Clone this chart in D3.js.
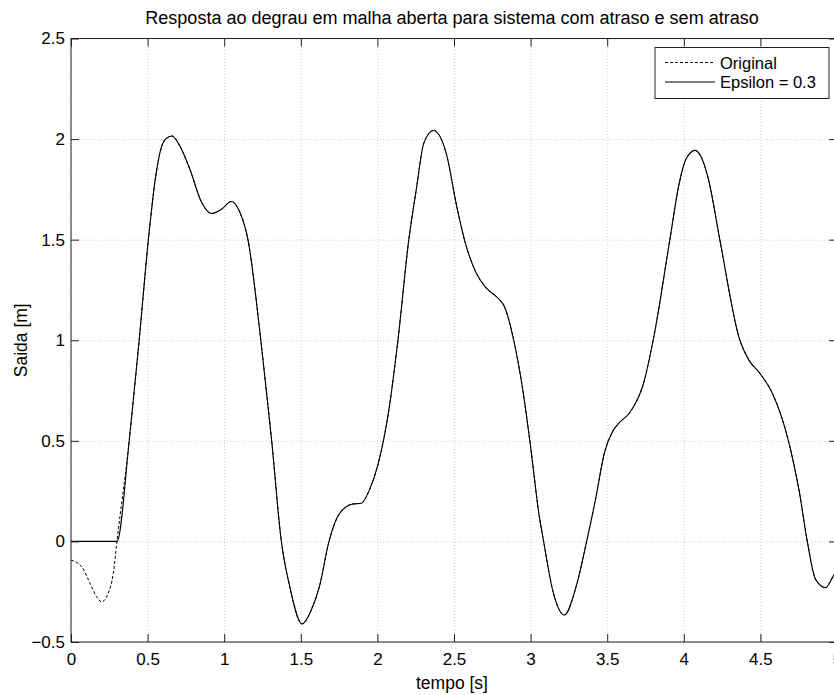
<!doctype html>
<html lang="pt">
  <head>
    <meta charset="utf-8">
    <title>Resposta ao degrau</title>
    <style>
      body{margin:0;background:#fff;}
      svg{display:block;font-family:"Liberation Sans", Arial, Helvetica, sans-serif;}
    </style>
  </head>
  <body>
    <div class="holder"></div>
    <script src="https://cdn.jsdelivr.net/npm/d3@7"></script>
    <script>

      // data: [tempo, saida]
      // beginning of the original response (only the dashed curve shows here)
      var originalHead = [
        [0.000, -0.093], [0.070, -0.126], [0.124, -0.208], [0.167, -0.275],
        [0.200, -0.300], [0.243, -0.258], [0.276, -0.159], [0.300, 0.000]
      ];

      // delayed system stays at zero until the delay ends
      var epsilonHead = [[0.000, 0.000], [0.300, 0.000]];

      // after t = 0.3 both curves lie on top of each other
      var sharedTail = [
        [0.30, 0.00], [0.38, 0.50], [0.445, 1.00], [0.505, 1.50], [0.55, 1.80],
        [0.59, 1.96], [0.625, 2.005], [0.66, 2.015], [0.70, 1.98], [0.776, 1.85],
        [0.85, 1.69], [0.917, 1.63], [0.98, 1.65], [1.047, 1.69], [1.10, 1.64],
        [1.155, 1.50], [1.239, 1.00], [1.31, 0.50], [1.373, 0.00], [1.428, -0.225],
        [1.508, -0.41], [1.569, -0.34], [1.623, -0.22], [1.684, 0.00], [1.754, 0.14],
        [1.84, 0.186], [1.895, 0.19], [1.95, 0.26], [2.003, 0.38], [2.075, 0.654],
        [2.134, 1.00], [2.205, 1.50], [2.254, 1.75], [2.303, 1.98], [2.366, 2.043],
        [2.449, 1.93], [2.518, 1.665], [2.568, 1.50], [2.645, 1.334], [2.71, 1.26],
        [2.786, 1.21], [2.829, 1.168], [2.89, 1.00], [2.949, 0.753], [3.00, 0.47],
        [3.057, 0.123], [3.085, 0.00], [3.144, -0.242], [3.22, -0.366], [3.297, -0.225],
        [3.366, 0.00], [3.427, 0.222], [3.481, 0.438], [3.535, 0.546], [3.579, 0.59],
        [3.644, 0.637], [3.70, 0.71], [3.731, 0.77], [3.80, 1.00], [3.909, 1.50],
        [3.97, 1.78], [4.014, 1.90], [4.074, 1.944], [4.12, 1.90], [4.161, 1.80],
        [4.235, 1.50], [4.366, 1.00], [4.426, 0.90], [4.496, 0.836], [4.578, 0.737],
        [4.683, 0.50], [4.752, 0.256], [4.806, 0.00], [4.861, -0.19], [4.926, -0.23],
        [4.97, -0.18], [5.00, -0.14]
      ];

      var xTicks = [0, 0.5, 1, 1.5, 2, 2.5, 3, 3.5, 4, 4.5, 5];
      var yTicks = [-0.5, 0, 0.5, 1, 1.5, 2, 2.5];
      var legendLabels = ["Original", "Epsilon = 0.3"];

      var original = originalHead.concat(sharedTail.slice(1));
      var epsilon  = epsilonHead.concat(sharedTail.slice(1));

      var width = 834, height = 695,
          plotLeft = 71, plotRight = 837, plotTop = 38.5, plotBottom = 642;

      var x = d3.scaleLinear().domain([0, 5]).range([plotLeft, plotRight]);
      var y = d3.scaleLinear().domain([-0.5, 2.5]).range([plotBottom, plotTop]);

      var svg = d3.select(".holder")
          .append("svg")
          .attr("width", width)
          .attr("height", height);

      //grid
      function styleGrid(g){
        g.select(".domain").remove();
        g.selectAll("line").attr("stroke", "#cfcfcf").attr("stroke-dasharray", "1,2");
      }

      svg.append("g")
          .attr("transform", "translate(0," + plotBottom + ")")
          .call(d3.axisBottom(x).tickValues(xTicks).tickSize(-(plotBottom - plotTop)).tickFormat(""))
          .call(styleGrid);

      svg.append("g")
          .attr("transform", "translate(" + plotLeft + ",0)")
          .call(d3.axisLeft(y).tickValues(yTicks).tickSize(-(plotRight - plotLeft)).tickFormat(""))
          .call(styleGrid);

      //curves
      var line = d3.line()
          .x(function(d){ return x(d[0]); })
          .y(function(d){ return y(d[1]); })
          .curve(d3.curveMonotoneX);

      svg.append("path")
          .datum(original)
          .attr("fill", "none")
          .attr("stroke", "#000")
          .attr("stroke-width", 1)
          .attr("stroke-dasharray", "3,2")
          .attr("d", line);

      svg.append("path")
          .datum(epsilon)
          .attr("fill", "none")
          .attr("stroke", "#000")
          .attr("stroke-width", 1.1)
          .attr("d", line);

      //axes, ticks pointing inwards on all four sides
      function styleAxis(g){
        g.select(".domain").remove();
        g.selectAll("line").attr("stroke", "#222");
        g.selectAll("text").attr("fill", "#000").style("font-size", "17px")
          .style("font-family", "Liberation Sans, Arial, sans-serif");
      }

      svg.append("g")
          .attr("transform", "translate(0," + plotBottom + ")")
          .call(d3.axisBottom(x).tickValues(xTicks).tickSizeInner(-8).tickSizeOuter(0).tickPadding(11).tickFormat(d3.format("")))
          .call(styleAxis);

      svg.append("g")
          .attr("transform", "translate(0," + plotTop + ")")
          .call(d3.axisTop(x).tickValues(xTicks).tickSizeInner(-8).tickSizeOuter(0).tickFormat(""))
          .call(styleAxis);

      svg.append("g")
          .attr("transform", "translate(" + plotLeft + ",0)")
          .call(d3.axisLeft(y).tickValues(yTicks).tickSizeInner(-8).tickSizeOuter(0).tickPadding(6).tickFormat(d3.format("")))
          .call(styleAxis);

      svg.append("g")
          .attr("transform", "translate(" + plotRight + ",0)")
          .call(d3.axisRight(y).tickValues(yTicks).tickSizeInner(-8).tickSizeOuter(0).tickFormat(""))
          .call(styleAxis);

      svg.append("rect")
          .attr("x", plotLeft).attr("y", plotTop)
          .attr("width", plotRight - plotLeft).attr("height", plotBottom - plotTop)
          .attr("fill", "none").attr("stroke", "#222").attr("stroke-width", 1);

      //labels
      svg.append("text")
          .attr("x", 452).attr("y", 24)
          .attr("text-anchor", "middle")
          .style("font-size", "18px")
          .text("Resposta ao degrau em malha aberta para sistema com atraso e sem atraso");

      svg.append("text")
          .attr("x", 452).attr("y", 689)
          .attr("text-anchor", "middle")
          .style("font-size", "17.5px")
          .text("tempo [s]");

      svg.append("text")
          .attr("transform", "translate(27," + ((plotTop + plotBottom) / 2) + ") rotate(-90)")
          .attr("text-anchor", "middle")
          .style("font-size", "17.5px")
          .text("Saida [m]");

      //legend
      var legend = svg.append("g").attr("transform", "translate(655,47.5)");
      legend.append("rect")
          .attr("width", 174).attr("height", 51)
          .attr("fill", "#fff").attr("stroke", "#222");

      legend.selectAll(".entry")
          .data(legendLabels)
          .enter().append("g")
          .attr("transform", function(d, i){ return "translate(0," + (15 + i * 19.5) + ")"; })
          .each(function(d, i){
            var g = d3.select(this);
            g.append("line")
              .attr("x1", 10).attr("x2", 60)
              .attr("stroke", "#000")
              .attr("stroke-dasharray", i === 0 ? "3,2" : null);
            g.append("text")
              .attr("x", 65).attr("y", 6)
              .style("font-size", "16.5px")
              .text(d);
          });

    </script>
  </body>
</html>
